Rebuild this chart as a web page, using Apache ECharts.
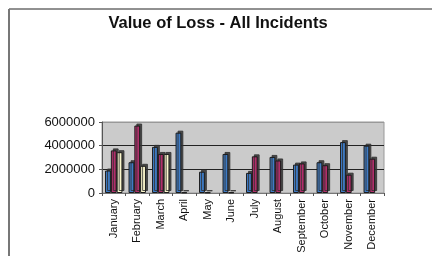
<!DOCTYPE html>
<html>
<head>
<meta charset="utf-8">
<script src="https://cdn.jsdelivr.net/npm/echarts@6/dist/echarts.min.js"></script>
<style>
  html, body { margin: 0; padding: 0; background: #fff; }
  #chart { width: 432px; height: 256px; }
</style>
</head>
<body>
<div id="chart"></div>
<script>
window.onload = function () {
    // 月份
    var months = ['January', 'February', 'March', 'April', 'May', 'June', 'July',
        'August', 'September', 'October', 'November', 'December'];
    // 三组数据
    var seriesA = [1900000, 2600000, 3900000, 5100000, 1800000, 3300000, 1700000, 3050000, 2400000, 2600000, 4300000, 4000000];
    var seriesB = [3600000, 5700000, 3300000, 50000, 50000, 50000, 3100000, 2750000, 2500000, 2350000, 1550000, 2900000];
    var seriesC = [3450000, 2300000, 3300000, null, null, null, null, null, null, null, null, null];
    // y轴刻度
    var yTicks = [0, 2000000, 4000000, 6000000];

    var chart = echarts.init(document.getElementById('chart'));

    function barStyle(color) {
        return {
            color: color,
            borderColor: '#1a1a1a',
            borderWidth: 1,
            shadowColor: 'rgba(50,50,50,0.85)',
            shadowOffsetX: 2,
            shadowOffsetY: -2,
            shadowBlur: 0
        };
    }

    var option = {
        animation: false,
        backgroundColor: '#fff',
        title: {
            text: 'Value of Loss - All Incidents',
            left: 213,
            textAlign: 'center',
            top: 10,
            textStyle: { fontFamily: 'Liberation Sans', fontSize: 16.5, fontWeight: 'bold', color: '#111' }
        },
        graphic: [
            { type: 'line', shape: { x1: 9, y1: 9, x2: 432, y2: 9 }, style: { stroke: '#222', lineWidth: 1 } },
            { type: 'line', shape: { x1: 9, y1: 9, x2: 9, y2: 256 }, style: { stroke: '#777', lineWidth: 2 } }
        ],
        grid: {
            left: 102, right: 48, top: 122, bottom: 63,
            show: true, backgroundColor: '#cbcbcb', borderColor: '#999', borderWidth: 1
        },
        xAxis: {
            type: 'category',
            data: months,
            axisLine: { lineStyle: { color: '#777' } },
            axisTick: { show: true, length: 3, lineStyle: { color: '#555' } },
            axisLabel: { rotate: 90, fontFamily: 'Liberation Sans', fontSize: 11, color: '#111', margin: 6 }
        },
        yAxis: {
            type: 'value',
            min: 0, max: 6000000, interval: 2000000,
            axisLine: { show: true, lineStyle: { color: '#555' } },
            axisTick: { show: true, length: 3, lineStyle: { color: '#555' } },
            splitLine: { show: true, lineStyle: { color: ['#888', '#222', '#222', '#999'], width: 1 } },
            axisLabel: {
                fontFamily: 'Liberation Sans', fontSize: 13, color: '#111', margin: 7,
                formatter: function (v) { return yTicks.indexOf(v) >= 0 ? String(v) : ''; }
            }
        },
        series: [
            { type: 'bar', data: seriesA, barGap: '0%', barCategoryGap: '26%', itemStyle: barStyle('#3f7cc6') },
            { type: 'bar', data: seriesB, itemStyle: barStyle('#b12f6b') },
            { type: 'bar', data: seriesC, itemStyle: barStyle('#fdf9cf') }
        ]
    };
    chart.setOption(option);
};
</script>
</body>
</html>
